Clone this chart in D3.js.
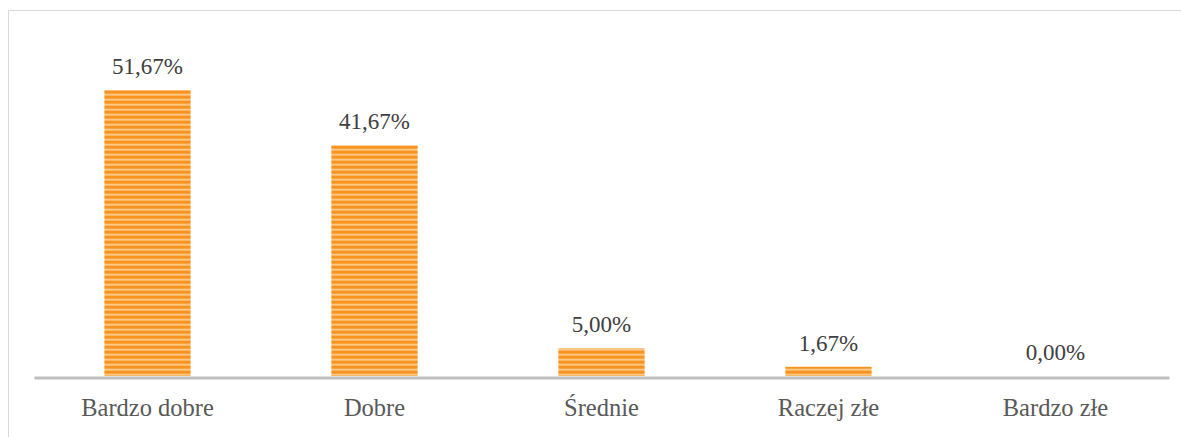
<!DOCTYPE html>
<html>
<head>
<meta charset="utf-8">
<script src="https://cdn.jsdelivr.net/npm/d3@7"></script>
<style>
  body { margin: 0; background: #fff; }
</style>
</head>
<body>
<div id="chart"></div>
<script>
/*** DATA ***/
const categories = ["Bardzo dobre", "Dobre", "Średnie", "Raczej złe", "Bardzo złe"];
const values = [51.67, 41.67, 5.00, 1.67, 0.00];
const valueLabels = ["51,67%", "41,67%", "5,00%", "1,67%", "0,00%"];

const serif = "'Liberation Serif', 'DejaVu Serif', 'Times New Roman', serif";

/*** CHART ***/
function drawChart() {
    const width = 1181;
    const height = 437;
    const margin = {top: 44, right: 12, bottom: 60, left: 34};

    const svg = d3.select("#chart")
        .append("svg")
        .attr("width", width)
        .attr("height", height);

    // stripe pattern for bars
    const defs = svg.append("defs");
    const pat = defs.append("pattern")
        .attr("id", "stripes")
        .attr("patternUnits", "userSpaceOnUse")
        .attr("width", 8)
        .attr("height", 5)
        .attr("y", 0.5);
    pat.append("rect").attr("width", 8).attr("height", 5).attr("fill", "#f7931e");
    pat.append("rect").attr("y", 3.5).attr("width", 8).attr("height", 1.5).attr("fill", "#fcd9a8");

    // chart area border (top + left)
    svg.append("path")
        .attr("d", "M8.5," + height + "V10.5H" + width)
        .attr("fill", "none")
        .attr("stroke", "#d9d9d9")
        .attr("stroke-width", 1);

    const x = d3.scaleBand()
        .domain(categories)
        .range([margin.left, width - margin.right])
        .paddingInner(0.62)
        .paddingOuter(0.31);

    const y = d3.scaleLinear()
        .domain([0, 60])
        .range([height - margin.bottom - 1, margin.top]);

    const g = svg.append("g");

    g.selectAll(".bar")
        .data(values)
        .enter().append("rect")
        .attr("class", "bar")
        .attr("x", (d, i) => x(categories[i]))
        .attr("width", x.bandwidth())
        .attr("y", d => y(d))
        .attr("height", d => y(0) - y(d))
        .attr("fill", "url(#stripes)");

    // value labels
    g.selectAll(".val")
        .data(values)
        .enter().append("text")
        .attr("class", "val")
        .attr("x", (d, i) => x(categories[i]) + x.bandwidth() / 2)
        .attr("y", d => y(d) - 16)
        .attr("text-anchor", "middle")
        .style("font-family", serif)
        .style("font-size", "23px")
        .attr("fill", "#404040")
        .text((d, i) => valueLabels[i]);

    // x axis
    const xAxis = svg.append("g")
        .attr("transform", "translate(0," + (y(0) + 1.5) + ")")
        .call(d3.axisBottom(x).tickSize(0).tickPadding(21));
    xAxis.select(".domain")
        .attr("stroke", "#bfbfbf")
        .attr("stroke-width", 3);
    xAxis.selectAll("text")
        .style("font-family", serif)
        .style("font-size", "24.5px")
        .attr("fill", "#595959");
}

drawChart();
</script>
</body>
</html>
